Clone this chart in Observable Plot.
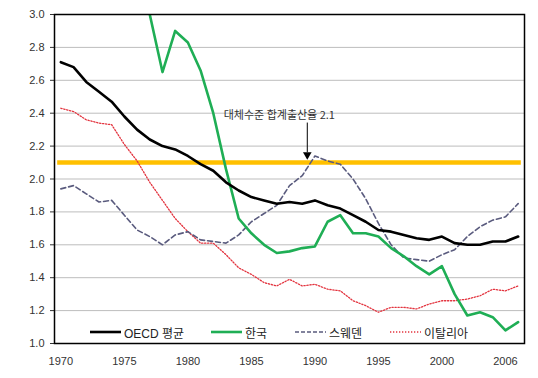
<!DOCTYPE html>
<html><head><meta charset="utf-8">
<script src="https://cdn.jsdelivr.net/npm/d3@7"></script>
<script src="https://cdn.jsdelivr.net/npm/@observablehq/plot@0.6"></script>
<style>
body{margin:0;background:#fff;}
#wrap{position:relative;width:538px;height:378px;font-family:"Liberation Sans",Arial,"Noto Sans CJK KR",sans-serif;}
#wrap svg{display:block;}
.item{position:absolute;top:324px;height:16px;display:flex;align-items:center;font-size:12px;color:#222;font-family:"Liberation Sans","Noto Sans CJK KR",sans-serif;white-space:nowrap;}
.item svg{margin-right:3px;}
</style></head><body><div id="wrap"></div>
<script>
const years = [1970,1971,1972,1973,1974,1975,1976,1977,1978,1979,1980,1981,1982,1983,1984,1985,1986,1987,1988,1989,1990,1991,1992,1993,1994,1995,1996,1997,1998,1999,2000,2001,2002,2003,2004,2005,2006];
const oecd   = [2.71,2.68,2.59,2.53,2.47,2.38,2.30,2.24,2.20,2.18,2.14,2.09,2.05,1.98,1.93,1.89,1.87,1.85,1.86,1.85,1.87,1.84,1.82,1.78,1.74,1.69,1.68,1.66,1.64,1.63,1.65,1.61,1.60,1.60,1.62,1.62,1.65];
const korea  = [4.53,4.54,4.12,4.07,3.77,3.43,3.10,3.00,2.65,2.90,2.83,2.66,2.40,2.06,1.76,1.67,1.60,1.55,1.56,1.58,1.59,1.74,1.78,1.67,1.67,1.65,1.58,1.53,1.47,1.42,1.47,1.30,1.17,1.19,1.16,1.08,1.13];
const sweden = [1.94,1.96,1.91,1.86,1.87,1.78,1.69,1.65,1.60,1.66,1.68,1.63,1.62,1.61,1.66,1.74,1.79,1.84,1.96,2.02,2.14,2.11,2.09,2.00,1.88,1.73,1.60,1.52,1.51,1.50,1.54,1.57,1.65,1.71,1.75,1.77,1.85];
const italy  = [2.43,2.41,2.36,2.34,2.33,2.21,2.11,1.98,1.87,1.76,1.68,1.61,1.61,1.54,1.46,1.42,1.37,1.35,1.39,1.35,1.36,1.33,1.32,1.26,1.23,1.19,1.22,1.22,1.21,1.24,1.26,1.26,1.27,1.29,1.33,1.32,1.35];
const replacementLevel = 2.1;
const seriesNames = ["OECD 평균","한국","스웨덴","이탈리아"];
const xTickYears = [1970,1975,1980,1985,1990,1995,2000,2005];
const xTickLabels = ["1970","1975","1980","1985","1990","1995","2000","2006"];
const yTicks = [1.0,1.2,1.4,1.6,1.8,2.0,2.2,2.4,2.6,2.8,3.0];
const annotationText = "대체수준 합계출산율 2.1";

const colors = {oecd:"#000000", korea:"#1fae55", sweden:"#5a5b7e", italy:"#e3343f", repl:"#ffc000"};
const toRows = vals => years.map((y,i)=>({year:y, value:vals[i]}));

const chart = Plot.plot({
  width: 538, height: 378,
  marginLeft: 54, marginRight: 14, marginTop: 14, marginBottom: 35,
  style: {fontFamily: '"Liberation Sans", Arial, sans-serif', fontSize: "11px", color: "#333", background: "#fff"},
  x: {domain: [1969.5, 2006.5], label: null},
  y: {domain: [1, 3], label: null},
  marks: [
    Plot.gridY(yTicks.filter(t => t > 1 && t < 3), {stroke: "#bdbdbd", strokeOpacity: 1, strokeWidth: 1}),
    Plot.ruleY([replacementLevel], {x1: 1969.75, x2: 2006.25, stroke: colors.repl, strokeWidth: 4.5}),
    Plot.line(toRows(italy), {x: "year", y: "value", stroke: colors.italy, strokeWidth: 1.3, strokeDasharray: "1.3,1.7"}),
    Plot.line(toRows(sweden), {x: "year", y: "value", stroke: colors.sweden, strokeWidth: 1.6, strokeDasharray: "5,3"}),
    Plot.line(toRows(korea), {x: "year", y: "value", stroke: colors.korea, strokeWidth: 2.6, clip: true}),
    Plot.line(toRows(oecd), {x: "year", y: "value", stroke: colors.oecd, strokeWidth: 2.6}),
    Plot.text([annotationText], {x: 1987.2, y: 2.386, text: d => d, fontSize: 11, fill: "#333", fontFamily: '"Noto Sans CJK KR", sans-serif', textAnchor: "middle"}),
    Plot.ruleX([1989.4], {y1: 2.34, y2: 2.16, stroke: "#000", strokeWidth: 1}),
    Plot.dot([1989.4], {x: d => d, y: 2.148, symbol: "triangle", rotate: 180, r: 3.2, fill: "#000", stroke: "none"}),
    Plot.axisY({ticks: yTicks, tickFormat: d => d.toFixed(1), tickSize: 4, tickPadding: 6, fontSize: 11, label: null}),
    Plot.axisX({ticks: xTickYears, tickFormat: (d,i) => xTickLabels[xTickYears.indexOf(d)], tickSize: 0, tickPadding: 14, fontSize: 11, label: null}),
    Plot.frame({stroke: "#000", strokeWidth: 1.5})
  ]
});
const wrap = document.getElementById("wrap");
wrap.appendChild(chart);

const legendItems = [
  {name: seriesNames[0], left: 90, stroke: colors.oecd, w: 2.6, dash: null},
  {name: seriesNames[1], left: 211, stroke: colors.korea, w: 2.6, dash: null},
  {name: seriesNames[2], left: 295, stroke: colors.sweden, w: 1.6, dash: "4,2"},
  {name: seriesNames[3], left: 390, stroke: colors.italy, w: 1.3, dash: "1.3,1.7"}
];
for (const it of legendItems) {
  const div = document.createElement("div");
  div.className = "item";
  div.style.left = it.left + "px";
  div.innerHTML = `<svg width="31" height="10"><line x1="0" x2="31" y1="5" y2="5" stroke="${it.stroke}" stroke-width="${it.w}" ${it.dash ? `stroke-dasharray="${it.dash}"` : ""}/></svg><span>${it.name}</span>`;
  wrap.appendChild(div);
}
</script></body></html>
